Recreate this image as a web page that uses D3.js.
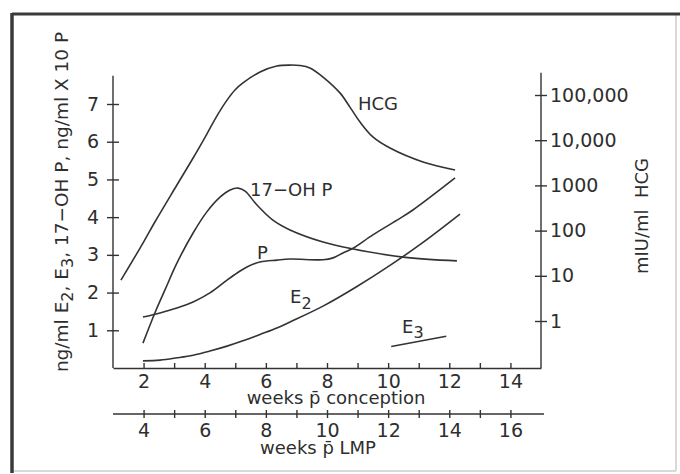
<!DOCTYPE html>
<html>
<head>
<meta charset="utf-8">
<script src="https://cdn.jsdelivr.net/npm/d3@7"></script>
<style>
  body { margin: 0; background: #fff; }
  svg text { font-family: "DejaVu Sans", Verdana, sans-serif; fill: #2e2e2e; }
</style>
</head>
<body>
<svg id="chart" width="680" height="474"></svg>
<script>
// [weeks after conception, value]; HCG in mIU/ml, the others in ng/ml (P x 10)
const hcg = [[1.26, 8], [1.98, 53], [2.37, 155], [3.09, 1020], [3.62, 4040], [4.07, 13700],
  [4.4, 34500], [4.73, 77000], [4.99, 129000], [5.25, 185000], [5.81, 323000], [6.36, 437000],
  [6.79, 459000], [7.12, 449000], [7.44, 397000], [7.87, 250000], [8.43, 110000], [8.75, 54000],
  [9.08, 25200], [9.5, 11800], [10.06, 6700], [11.14, 3300], [12.19, 2200]];
const ohp = [[1.98, 0.66], [2.37, 1.46], [2.7, 2.07], [3.09, 2.78], [3.62, 3.58], [4.07, 4.14],
  [4.5, 4.53], [4.83, 4.72], [5.09, 4.77], [5.32, 4.69], [5.71, 4.32], [6.23, 3.92], [6.79, 3.66],
  [7.87, 3.34], [8.82, 3.16], [10.49, 2.94], [12.25, 2.84]];
const prog = [[1.98, 1.35], [2.54, 1.46], [3.09, 1.59], [3.62, 1.75], [4.17, 1.99], [4.73, 2.33],
  [5.06, 2.52], [5.38, 2.68], [5.81, 2.81], [6.36, 2.86], [6.79, 2.89], [7.87, 2.87], [8.2, 2.92],
  [8.52, 3.05], [8.82, 3.16], [9.5, 3.53], [10.29, 3.92], [10.81, 4.19], [12.19, 5.04]];
const e2 = [[1.98, 0.19], [2.54, 0.21], [3.09, 0.27], [3.62, 0.34], [4.17, 0.45], [4.73, 0.58],
  [5.25, 0.72], [5.81, 0.89], [6.36, 1.06], [6.79, 1.22], [7.87, 1.64], [8.98, 2.16], [10.06, 2.72],
  [11.14, 3.33], [12.35, 4.08]];
const e3 = [[10.1, 0.57], [11.9, 0.84]];

const leftTicks = [1, 2, 3, 4, 5, 6, 7];
const rightTicks = [1, 10, 100, 1000, 10000, 100000];
const rightLabels = ["1", "10", "100", "1000", "10,000", "100,000"];
const weekTicks = [2, 3, 4, 5, 6, 7, 8, 9, 10, 11, 12, 13, 14];
const lmpTicks = [4, 5, 6, 7, 8, 9, 10, 11, 12, 13, 14, 15, 16];

const svg = d3.select("#chart");
const ink = "#333";

// frame
svg.append("line").attr("x1", 676).attr("y1", 14).attr("x2", 676).attr("y2", 471).attr("stroke", "#ccc").attr("stroke-width", 1.5);
svg.append("line").attr("x1", 12).attr("y1", 471).attr("x2", 676).attr("y2", 471).attr("stroke", "#ccc").attr("stroke-width", 1.5);
svg.append("line").attr("x1", 12).attr("y1", 14).attr("x2", 680).attr("y2", 14).attr("stroke", "#3a3a3a").attr("stroke-width", 3);
svg.append("line").attr("x1", 12).attr("y1", 13).attr("x2", 12).attr("y2", 473).attr("stroke", "#3a3a3a").attr("stroke-width", 3.5);

const x = d3.scaleLinear().domain([1, 15]).range([113, 541]);
const xl = d3.scaleLinear().domain([3, 17]).range([113, 541]);
const y = d3.scaleLinear().domain([0, 7]).range([368, 104]);
const yr = d3.scaleLog().domain([1, 1e5]).range([321, 95]);

function style(g) {
  g.selectAll("line").attr("stroke", ink).attr("stroke-width", 1.4);
  g.selectAll("path").attr("stroke", ink).attr("stroke-width", 1.6);
  g.selectAll("text").attr("font-size", 19).attr("fill", "#2e2e2e").attr("font-family", null);
}

// left axis
const gl = svg.append("g").attr("transform", `translate(${x(1)},0)`)
  .call(d3.axisLeft(y).tickValues(leftTicks).tickFormat(d3.format("d")).tickSize(6).tickPadding(8).tickSizeOuter(0));
gl.select(".domain").remove();
gl.selectAll(".tick line").attr("x1", -6).attr("x2", 6);
gl.append("line").attr("y1", y(7.75)).attr("y2", y(0)).attr("stroke", ink);
style(gl);

// right axis (HCG, log)
const gr = svg.append("g").attr("transform", `translate(${x(15)},0)`)
  .call(d3.axisRight(yr).tickValues(rightTicks).tickFormat((d, i) => rightLabels[i]).tickSize(6).tickPadding(3));
gr.select(".domain").remove();
gr.selectAll(".tick line").attr("x1", -6).attr("x2", 6);
gr.append("line").attr("y1", yr(10 ** 5.49)).attr("y2", y(0)).attr("stroke", ink);
style(gr);

// bottom axis, weeks after conception
const gb = svg.append("g").attr("transform", `translate(0,${y(0)})`)
  .call(d3.axisBottom(x).tickValues(weekTicks).tickFormat(d => d % 2 ? "" : d).tickSize(-5).tickPadding(7).tickSizeOuter(0));
style(gb);

// second axis, weeks after LMP
const gm = svg.append("g").attr("transform", "translate(0,414)")
  .call(d3.axisBottom(xl).tickValues(lmpTicks).tickFormat(d => d % 2 ? "" : d).tickSize(4).tickPadding(6).tickSizeOuter(0));
gm.selectAll(".tick line").attr("y1", -4);
gm.select(".domain").attr("d", "M113,0H544");
style(gm);

// curves
const curve = d3.curveCatmullRom.alpha(0.5);
const lineL = d3.line().x(d => x(d[0])).y(d => y(d[1])).curve(curve);
const lineR = d3.line().x(d => x(d[0])).y(d => yr(d[1])).curve(curve);
const curves = svg.append("g").attr("fill", "none").attr("stroke", ink).attr("stroke-width", 1.6);
curves.append("path").attr("d", lineR(hcg));
[ohp, prog, e2, e3].forEach(s => curves.append("path").attr("d", lineL(s)));

// labels
const lab = svg.append("g").attr("font-size", 18);
lab.append("text").attr("x", 358).attr("y", 110).text("HCG");
lab.append("text").attr("x", 250).attr("y", 196).text("17\u2212OH P");
lab.append("text").attr("x", 257).attr("y", 259).text("P");
const te2 = lab.append("text").attr("x", 290).attr("y", 303).text("E");
te2.append("tspan").attr("dy", 6).attr("font-size", 16).text("2");
const te3 = lab.append("text").attr("x", 402).attr("y", 333).text("E");
te3.append("tspan").attr("dy", 5).attr("font-size", 16).text("3");

lab.append("text").attr("x", 336).attr("y", 404).attr("text-anchor", "middle").text("weeks p\u0304 conception");
lab.append("text").attr("x", 318).attr("y", 454).attr("text-anchor", "middle").text("weeks p\u0304 LMP");

const tl = lab.append("text").attr("transform", "translate(68,202) rotate(-90)").attr("text-anchor", "middle")
  .attr("font-size", 18.5);
tl.append("tspan").text("ng/ml E");
tl.append("tspan").attr("dy", 5).attr("font-size", 16).text("2");
tl.append("tspan").attr("dy", -5).text(", E");
tl.append("tspan").attr("dy", 5).attr("font-size", 16).text("3");
tl.append("tspan").attr("dy", -5).text(", 17\u2212OH P, ng/ml X 10 P");

lab.append("text").attr("transform", "translate(648,216) rotate(-90)").attr("text-anchor", "middle")
  .style("white-space", "pre").text("mIU/ml  HCG");
</script>
</body>
</html>
